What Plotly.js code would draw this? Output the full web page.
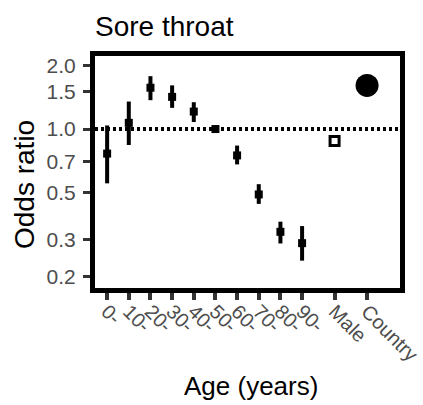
<!DOCTYPE html>
<html><head><meta charset="utf-8">
<script src="https://cdn.plot.ly/plotly-3.0.1.min.js"></script>
<style>html,body{margin:0;padding:0;background:#fff}#c{width:423px;height:405px}</style>
</head><body><div id="c"></div>
<script>
const ageGroups = ['0-','10-','20-','30-','40-','50-','60-','70-','80-','90-'];
const ageOR   = [0.765, 1.07, 1.57, 1.42, 1.21, 1.00, 0.75, 0.49, 0.326, 0.288];
const ageLow  = [0.553, 0.84, 1.37, 1.26, 1.08, 0.985, 0.68, 0.442, 0.287, 0.238];
const ageHigh = [1.04, 1.35, 1.78, 1.61, 1.34, 1.015, 0.835, 0.548, 0.364, 0.347];
const maleLabel = 'Male';
const maleOR = 0.877;
const countryLabel = 'Country';
const countryOR = 1.61;
const yTicks = [0.2, 0.3, 0.5, 0.7, 1.0, 1.5, 2.0];
const yTickText = ['0.2','0.3','0.5','0.7','1.0','1.5','2.0'];

const ageX = ageGroups.map((_, i) => i);
const maleX = ageGroups.length + 0.5;
const countryX = ageGroups.length + 2;

const traces = [
  {
    type: 'scatter', mode: 'markers', x: ageX, y: ageOR,
    marker: {symbol: 'square', size: 8, color: '#000'},
    error_y: {type: 'data', symmetric: false,
      array: ageOR.map((v, i) => ageHigh[i] - v),
      arrayminus: ageOR.map((v, i) => v - ageLow[i]),
      thickness: 4, width: 0, color: '#000'},
    hoverinfo: 'skip'
  },
  {
    type: 'scatter', mode: 'markers', x: [maleX], y: [maleOR],
    marker: {symbol: 'square', size: 9, color: '#fff', line: {color: '#000', width: 3}},
    hoverinfo: 'skip'
  },
  {
    type: 'scatter', mode: 'markers', x: [countryX], y: [countryOR],
    marker: {symbol: 'circle', size: 23, color: '#000'},
    hoverinfo: 'skip'
  }
];

const font = 'Liberation Sans, Arial, sans-serif';
const L = 95, R = 400, T = 56, B = 288;
const layout = {
  width: 423, height: 405,
  margin: {l: L, r: 423 - R, t: T, b: 405 - B},
  paper_bgcolor: '#fff', plot_bgcolor: '#fff',
  showlegend: false,
  font: {family: font, color: '#000'},
  title: {text: 'Sore throat', x: 95/423, xref: 'container', xanchor: 'left',
          y: 1 - 26/405, yref: 'container', yanchor: 'middle',
          font: {size: 28, color: '#000', family: font}},
  xaxis: {
    range: [-0.56, 13.52], showgrid: false, zeroline: false,
    tickvals: ageX.concat([maleX, countryX]),
    ticktext: ageGroups.concat([maleLabel, countryLabel]),
    tickangle: 45, ticks: 'outside', ticklen: 7, tickwidth: 4, tickcolor: '#333',
    ticklabelstandoff: -8,
    tickfont: {size: 20, color: '#4d4d4d', family: font},
    showline: true, linecolor: '#000', linewidth: 5, mirror: true
  },
  yaxis: {
    type: 'log', range: [-0.753, 0.346], showgrid: false, zeroline: false,
    tickvals: yTicks, ticktext: yTickText,
    ticks: 'outside', ticklen: 7, tickwidth: 3, tickcolor: '#333',
    ticklabelstandoff: 3,
    tickfont: {size: 21, color: '#4d4d4d', family: font},
    showline: true, linecolor: '#000', linewidth: 5, mirror: true
  },
  annotations: [
    {text: 'Age (years)', xref: 'paper', yref: 'paper',
     x: (251 - L) / (R - L), y: (B - 386) / (B - T), xanchor: 'center', yanchor: 'middle',
     showarrow: false, font: {size: 26, color: '#000', family: font}},
    {text: 'Odds ratio', xref: 'paper', yref: 'paper', textangle: -90,
     x: (24 - L) / (R - L), y: (B - 185) / (B - T), xanchor: 'center', yanchor: 'middle',
     showarrow: false, font: {size: 28, color: '#000', family: font}}
  ],
  shapes: [{type: 'line', xref: 'paper', x0: 0, x1: 1, yref: 'y', y0: 1, y1: 1,
            line: {color: '#000', width: 4, dash: '3px,3px'}, layer: 'below'}]
};
Plotly.newPlot('c', traces, layout, {staticPlot: true, displayModeBar: false});
</script>
</body></html>
